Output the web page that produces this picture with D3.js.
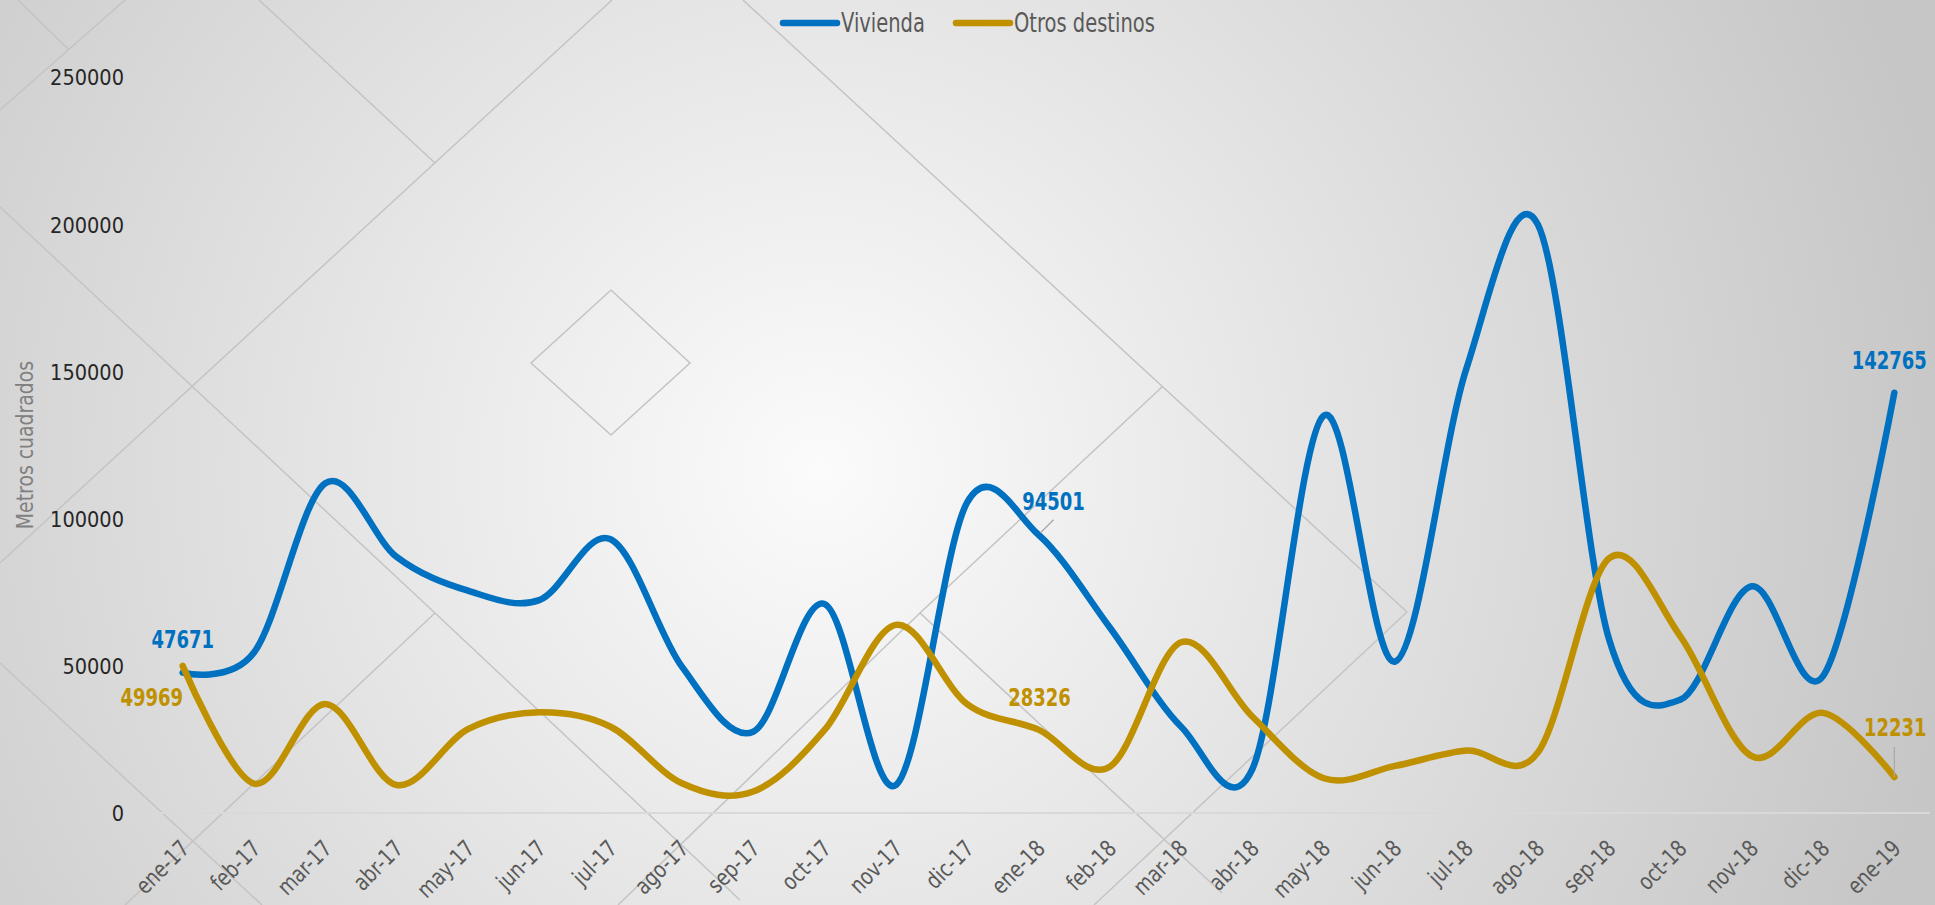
<!DOCTYPE html>
<html>
<head>
<meta charset="utf-8">
<script src="https://cdn.jsdelivr.net/npm/d3@7"></script>
<style>
html, body { margin: 0; padding: 0; overflow: hidden; background: #e0e0e0; }
svg { display: block; }
text { font-family: "DejaVu Sans", sans-serif; }
</style>
</head>
<body>
<script>
// datos
var meses = ["ene-17", "feb-17", "mar-17", "abr-17", "may-17", "jun-17", "jul-17", "ago-17",
             "sep-17", "oct-17", "nov-17", "dic-17", "ene-18", "feb-18", "mar-18", "abr-18",
             "may-18", "jun-18", "jul-18", "ago-18", "sep-18", "oct-18", "nov-18", "dic-18", "ene-19"];
var vivienda = [47671, 54500, 112000, 87000, 75500, 72300, 93000, 49700, 27600, 71000, 9500, 105500,
                94501, 63000, 29300, 15000, 135000, 51400, 151000, 200000, 59000, 38500, 77000, 46500, 142765];
var otros = [49969, 10000, 37000, 9500, 28500, 34200, 29300, 10100, 7300, 28200, 63900, 37000,
             28326, 15700, 58000, 32700, 11800, 16000, 21200, 20500, 86500, 60000, 19300, 34000, 12231];
var ticksY = [0, 50000, 100000, 150000, 200000, 250000];
var etiquetados = [0, 12, 24];   // meses con etiqueta de valor

var width = 1935,
    height = 905;

var svg = d3.select("body").append("svg")
    .attr("width", width)
    .attr("height", height);

// fondo con degradado
var defs = svg.append("defs");
var grad = defs.append("radialGradient")
    .attr("id", "fondo")
    .attr("gradientUnits", "userSpaceOnUse")
    .attr("cx", 820).attr("cy", 470).attr("r", 1150);
grad.append("stop").attr("offset", 0).attr("stop-color", "#fbfbfb");
grad.append("stop").attr("offset", 0.4).attr("stop-color", "#e6e6e6");
grad.append("stop").attr("offset", 1).attr("stop-color", "#c6c6c6");

svg.append("rect")
    .attr("width", width)
    .attr("height", height)
    .attr("fill", "url(#fondo)");

// rombos decorativos del fondo
var decor = [
    [[18, 0], [69, 50]],
    [[0, 110], [125, 0]],
    [[259, 0], [435, 163]],
    [[612, 0], [0, 563]],
    [[0, 207], [435, 613], [740, 900]],
    [[435, 613], [125, 905]],
    [[0, 663], [262, 905]],
    [[611, 290], [690, 363], [611, 435], [531, 363], [611, 290]],
    [[743, 0], [1407, 612]],
    [[1162, 387], [920, 613], [1222, 893]],
    [[1407, 612], [1094, 905]],
    [[920, 613], [618, 905]]
];
svg.append("g")
    .selectAll("path")
    .data(decor).enter()
    .append("path")
    .attr("d", d3.line())
    .attr("fill", "none")
    .attr("stroke", "#c4c4c4")
    .attr("stroke-width", 1.5);

var x = d3.scaleBand()
    .domain(meses)
    .range([147, 1930])
    .padding(0);

var y = d3.scaleLinear()
    .domain([0, 250000])
    .range([813, 77]);

function cx(i) { return x(meses[i]) + x.bandwidth() / 2; }

// eje X
var ejeX = svg.append("g").attr("transform", "translate(0," + y(0) + ")");
ejeX.append("line")
    .attr("x1", x.range()[0]).attr("x2", x.range()[1])
    .attr("stroke", "#d9d9d9").attr("stroke-width", 2);
ejeX.selectAll("line.tick")
    .data(meses.map(function(d) { return x(d); }).concat([x.range()[1]]))
    .enter().append("line")
    .attr("class", "tick")
    .attr("x1", function(d) { return d; }).attr("x2", function(d) { return d; })
    .attr("y1", 0).attr("y2", 10)
    .attr("stroke", "#d9d9d9").attr("stroke-width", 2);

ejeX.call(d3.axisBottom(x).tickSize(0))
    .call(function(g) { g.select(".domain").remove(); })
    .selectAll("text")
    .attr("y", 0).attr("dy", 0)
    .attr("text-anchor", "end")
    .attr("transform", "translate(8,37) rotate(-45) scale(0.8,1)")
    .style("font-size", "23px")
    .style("font-family", "DejaVu Sans, sans-serif")
    .attr("fill", "#595959");

// eje Y
var ejeY = svg.append("g").attr("transform", "translate(" + x.range()[0] + ",0)");
ejeY.call(d3.axisLeft(y).tickValues(ticksY).tickSize(0).tickFormat(d3.format("d")))
    .call(function(g) { g.select(".domain").remove(); })
    .selectAll("text")
    .attr("x", 0).attr("dy", "0.36em")
    .attr("transform", "translate(-23,0) scale(0.88,1)")
    .style("font-size", "22px")
    .style("font-family", "DejaVu Sans, sans-serif")
    .attr("fill", "#262626");

svg.append("text")
    .attr("transform", "translate(33,445) rotate(-90) scale(0.82,1)")
    .attr("text-anchor", "middle")
    .style("font-size", "23px")
    .attr("fill", "#808080")
    .text("Metros cuadrados");

// series
var series = [
    { nombre: "Vivienda", valores: vivienda, color: "#0070C0" },
    { nombre: "Otros destinos", valores: otros, color: "#BF9000" }
];

var linea = d3.line()
    .x(function(d, i) { return cx(i); })
    .y(function(d) { return y(d); })
    .curve(d3.curveCardinal.tension(0));

svg.selectAll("path.serie")
    .data(series).enter()
    .append("path")
    .attr("class", "serie")
    .attr("d", function(s) { return linea(s.valores); })
    .attr("fill", "none")
    .attr("stroke", function(s) { return s.color; })
    .attr("stroke-width", 6.5)
    .attr("stroke-linecap", "round")
    .attr("stroke-linejoin", "round");

// etiquetas de datos (desplazamiento respecto al punto)
var desplaz = {
    "Vivienda": [[0, -34], [15, -34], [-5, -33]],
    "Otros destinos": [[-31, 31], [1, -33], [1, -50]]
};
var guias = [
    { serie: 0, idx: 12, d: [[2, -2], [15, -15]] },
    { serie: 1, idx: 24, d: [[0, -30], [0, 0]] }
];

svg.selectAll("path.guia")
    .data(guias).enter()
    .append("path")
    .attr("class", "guia")
    .attr("d", function(g) {
        var px = cx(g.idx), py = y(series[g.serie].valores[g.idx]);
        return d3.line()(g.d.map(function(p) { return [px + p[0], py + p[1]]; }));
    })
    .attr("stroke", "#a6a6a6")
    .attr("stroke-width", 1.2);

series.forEach(function(s) {
    svg.append("g").selectAll("text")
        .data(etiquetados).enter()
        .append("text")
        .attr("transform", function(i, k) {
            var o = desplaz[s.nombre][k];
            return "translate(" + (cx(i) + o[0]) + "," + (y(s.valores[i]) + o[1]) + ") scale(0.72,1)";
        })
        .attr("text-anchor", "middle")
        .attr("dy", "0.36em")
        .style("font-size", "25px")
        .style("font-weight", "bold")
        .attr("fill", s.color)
        .text(function(i) { return s.valores[i]; });
});

// leyenda
var leyenda = svg.append("g").attr("class", "legend");
var posLeyenda = [783, 956];
series.forEach(function(s, i) {
    var lx = posLeyenda[i];
    leyenda.append("line")
        .attr("x1", lx).attr("x2", lx + 54)
        .attr("y1", 23).attr("y2", 23)
        .attr("stroke", s.color)
        .attr("stroke-width", 6.5)
        .attr("stroke-linecap", "round");
    leyenda.append("text")
        .attr("transform", "translate(" + (lx + 58) + ",23) scale(0.75,1)")
        .attr("dy", "0.36em")
        .style("font-size", "26px")
        .attr("fill", "#595959")
        .text(s.nombre);
});
</script>
</body>
</html>
